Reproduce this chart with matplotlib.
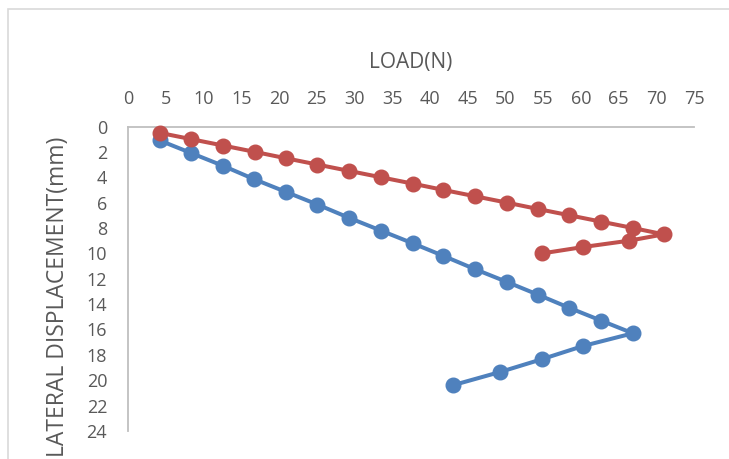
import matplotlib
matplotlib.use("Agg")
import matplotlib.pyplot as plt
from matplotlib.patches import Rectangle

# Load (N) vs lateral displacement (mm) for two specimens
load_blue = [4.2, 8.4, 12.6, 16.7, 20.9, 25.1, 29.3, 33.5, 37.7, 41.8,
             46.0, 50.2, 54.3, 58.5, 62.7, 66.9, 60.3, 54.8, 49.3, 43.0]
disp_blue = [1.1, 2.1, 3.1, 4.15, 5.15, 6.15, 7.2, 8.2, 9.2, 10.2,
             11.25, 12.25, 13.25, 14.3, 15.3, 16.3, 17.3, 18.35, 19.35, 20.4]

load_red = [4.2, 8.4, 12.6, 16.8, 20.9, 25.1, 29.3, 33.5, 37.7, 41.8,
            46.0, 50.2, 54.3, 58.5, 62.7, 66.9, 71.0, 66.4, 60.3, 54.9]
disp_red = [0.5, 1.0, 1.5, 2.0, 2.5, 3.0, 3.5, 4.0, 4.5, 5.0,
            5.5, 6.0, 6.5, 7.0, 7.5, 8.0, 8.5, 9.0, 9.5, 10.0]

x_ticks = list(range(0, 80, 5))
y_ticks = list(range(0, 26, 2))

plt.rcParams['font.family'] = ['Open Sans', 'DejaVu Sans']
text_color = '#595959'
axis_color = '#BFBFBF'

W, H = 729, 459
fig = plt.figure(figsize=(W / 100, H / 100), dpi=100)

# chart area border
fig.patches.append(Rectangle((8 / W, -0.1), 1.2, 1 - 9 / H + 0.1,
                             transform=fig.transFigure, fill=False,
                             edgecolor='#D9D9D9', linewidth=1.2))

left, right = 128 / W, 694 / W
top, bottom = 1 - 126.5 / H, 1 - 431 / H
ax = fig.add_axes([left, bottom, right - left, top - bottom])

ax.plot(load_blue, disp_blue, color='#4F81BD', linewidth=2.9,
        marker='o', markersize=10.5, zorder=3, clip_on=False)
ax.plot(load_red, disp_red, color='#C0504D', linewidth=2.9,
        marker='o', markersize=10.5, zorder=4, clip_on=False)

ax.set_xlim(0, 75)
ax.set_ylim(24, 0)
ax.set_xticks(x_ticks)
ax.set_yticks(y_ticks)
ax.xaxis.tick_top()
ax.xaxis.set_label_position('top')

for side in ('right', 'bottom'):
    ax.spines[side].set_visible(False)
for side in ('top', 'left'):
    ax.spines[side].set_color(axis_color)
    ax.spines[side].set_linewidth(1.3)

ax.tick_params(axis='x', length=0, pad=13, labelsize=13, labelcolor=text_color)
ax.tick_params(axis='y', length=0, pad=15, labelsize=13, labelcolor=text_color)

ax.set_xlabel('LOAD(N)', fontsize=15, color=text_color, labelpad=16)
fig.text(58 / W, 1 - 297 / H, 'LATERAL DISPLACEMENT(mm)', rotation=90,
         ha='center', va='center', fontsize=16.5, color=text_color)

fig.savefig('out.png', dpi=100)
